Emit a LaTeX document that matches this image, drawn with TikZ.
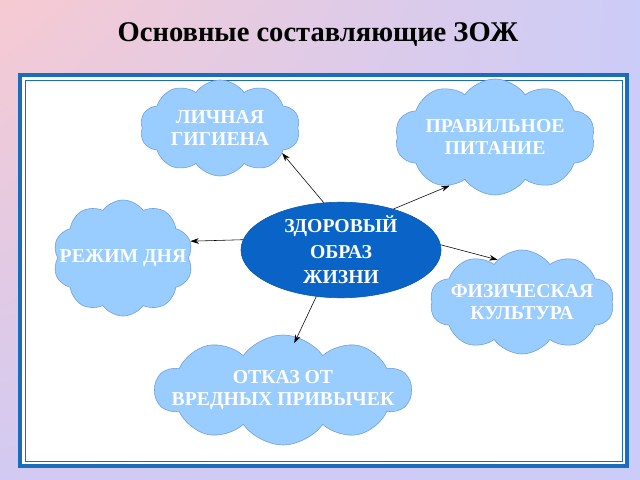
\documentclass[tikz,border=0pt]{standalone}
\usepackage{fontspec}
\setmainfont{Liberation Serif}
\usetikzlibrary{shapes.geometric, shapes.symbols, arrows.meta, positioning, shadings}
\definecolor{zojblue}{HTML}{0A64C8}
\definecolor{cloudblue}{HTML}{99CCFF}
\definecolor{cloudedge}{HTML}{6E9ED6}
\definecolor{frameblue}{HTML}{1B6CBB}
\definecolor{bgpink}{HTML}{F7CAD2}
\definecolor{bglilac}{HTML}{CCCCF8}
\definecolor{bgbottom}{HTML}{D2CAF2}

\begin{document}
\begin{tikzpicture}[x=0.025cm, y=-0.025cm,
                wolke/.style={cloud, cloud puffs=10, cloud puff arc=110, cloud ignores aspect, draw=cloudedge, fill=cloudblue, thin, inner sep=0pt, text=white, align=center, font=\bfseries\fontsize{14}{16}\selectfont},
                mitte/.style={ellipse, draw=zojblue!85!black, fill=zojblue, thin, inner sep=0pt, text=white, align=center, font=\bfseries\fontsize{14}{18}\selectfont},
                titel/.style={font=\bfseries\fontsize{20.3}{24}\selectfont},
                pfeil/.style={thin, -{Stealth[length=6pt, width=4pt]}}
            ]
            \useasboundingbox (0,0) rectangle (640,480);

            % Hintergrund
            \shade[upper left=bgpink, upper right=bglilac, lower left=bgbottom, lower right=bglilac] (0,0) rectangle (640,480);
            \fill[white] (20,75) rectangle (627,466);
            \draw[frameblue, line width=2.8pt] (20,75) rectangle (627,466);
            \draw[frameblue, line width=0.6pt] (25,80) rectangle (622,461);

            % Knoten
            \node[titel] (T) at (318,35) {Основные составляющие ЗОЖ};
            \node[mitte, minimum width=5cm, minimum height=2.35cm] (zoj) at (341,250) {ЗДОРОВЫЙ\\ОБРАЗ\\ЖИЗНИ};
            \node[wolke, minimum width=4cm, minimum height=2.4cm] (gig) at (220,128) {ЛИЧНАЯ\\ГИГИЕНА};
            \node[wolke, minimum width=5cm, minimum height=2.9cm] (pit) at (495,137) {ПРАВИЛЬНОЕ\\ПИТАНИЕ};
            \node[wolke, inner xsep=-12pt, minimum width=3.5cm, minimum height=2.9cm] (rez) at (123,258) {РЕЖИМ ДНЯ};
            \node[wolke, inner xsep=-6pt, minimum width=4.6cm, minimum height=2.6cm] (fiz) at (522,302) {ФИЗИЧЕСКАЯ\\КУЛЬТУРА};
            \node[wolke, inner xsep=-18pt, minimum width=6.4cm, minimum height=2.75cm] (otk) at (283,390) {ОТКАЗ ОТ\\ВРЕДНЫХ ПРИВЫЧЕК};

            % Pfeile
            \draw[pfeil] (zoj.110) -- (gig.-22);
            \draw[pfeil] (zoj.38) -- (pit.-133);
            \draw[pfeil] (zoj.174) -- (rez.14);
            \draw[pfeil] (zoj.3) -- (fiz.120);
            \draw[pfeil, shorten >=-5pt] (zoj.-118) -- (otk.75);

        \end{tikzpicture}
\end{document}
